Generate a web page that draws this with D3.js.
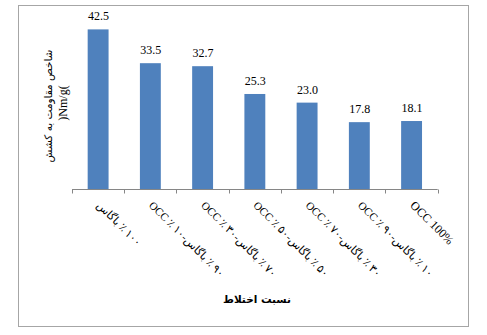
<!DOCTYPE html>
<html><head><meta charset="utf-8">
<script src="https://cdn.jsdelivr.net/npm/d3@7"></script>
<style>body{margin:0;background:#fff}</style>
</head><body>
<script>
const categories = ["۱۰۰ ٪ باگاس","۹۰ ٪ باگاس-۱۰ ٪ OCC","۷۰ ٪ باگاس-۳۰ ٪ OCC","۵۰ ٪ باگاس-۵۰ ٪ OCC","۳۰ ٪ باگاس-۷۰ ٪ OCC","۱۰ ٪ باگاس-۹۰ ٪ OCC","OCC 100%"];
const values = [42.5, 33.5, 32.7, 25.3, 23.0, 17.8, 18.1];
const valueLabels = ["42.5","33.5","32.7","25.3","23.0","17.8","18.1"];
const yTitle1 = "شاخص مقاومت به کشش";
const yTitle2 = ")Nm/g(";
const xTitle = "نسبت اختلاط";

const W = 487, H = 335;
const svg = d3.select("body").append("svg").attr("width", W).attr("height", H);
svg.append("rect").attr("x", 18.5).attr("y", 5.5).attr("width", 450).attr("height", 321)
  .attr("fill", "#fff").attr("stroke", "#a6a6a6").attr("stroke-width", 1);

const x = d3.scaleBand().domain(categories).range([72, 437.7]).paddingInner(0).paddingOuter(0);
const y = d3.scaleLinear().domain([0, 45]).range([189, 20]);
const barW = x.bandwidth() / 2.5;

svg.selectAll("rect.bar").data(values).join("rect").attr("class", "bar")
  .attr("x", (d, i) => x(categories[i]) + (x.bandwidth() - barW) / 2)
  .attr("y", d => y(d)).attr("width", barW).attr("height", d => y(0) - y(d))
  .attr("fill", "#4f81bd");

svg.selectAll("text.val").data(values).join("text").attr("class", "val")
  .attr("x", (d, i) => x(categories[i]) + x.bandwidth() / 2 + 0.5)
  .attr("y", d => y(d) - 9).attr("text-anchor", "middle")
  .attr("font-family", "Liberation Serif, serif").attr("font-size", 12).attr("fill", "#000")
  .text((d, i) => valueLabels[i]);

// x axis
const ax = svg.append("g");
ax.append("line").attr("x1", 72).attr("x2", 437.7).attr("y1", 189.5).attr("y2", 189.5).attr("stroke", "#868686");
const bounds = categories.map(c => x(c)).concat([x.range()[1]]);
ax.selectAll("line.tk").data(bounds).join("line").attr("class", "tk")
  .attr("x1", d => Math.round(d) + 0.5).attr("x2", d => Math.round(d) + 0.5)
  .attr("y1", 189.5).attr("y2", 193.5).attr("stroke", "#868686");

svg.selectAll("text.cat").data(categories).join("text").attr("class", "cat")
  .attr("transform", d => `translate(${x(d) + x.bandwidth() / 2 - 2},${206}) rotate(45)`)
  .attr("text-anchor", "start")
  .attr("font-family", "Liberation Serif, DejaVu Sans, serif")
  .attr("font-size", (d, i) => i === categories.length - 1 ? 12 : 11).attr("fill", "#000")
  .text((d, i) => i === categories.length - 1 ? d : "\u202B" + d + "\u202C");

svg.append("text").attr("x", 257).attr("y", 303).attr("text-anchor", "middle")
  .attr("font-family", "DejaVu Sans, sans-serif").attr("font-weight", "bold").attr("font-size", 10.5)
  .text(xTitle);

svg.append("text").attr("transform", "translate(52,106) rotate(-90)").attr("text-anchor", "middle")
  .attr("font-family", "DejaVu Sans, sans-serif").attr("font-size", 10.5)
  .text("\u202B" + yTitle1 + "\u202C");
svg.append("text").attr("transform", "translate(67,103) rotate(-90)").attr("text-anchor", "middle")
  .attr("font-family", "Liberation Serif, serif").attr("font-size", 12)
  .text(yTitle2);
</script>
</body></html>
